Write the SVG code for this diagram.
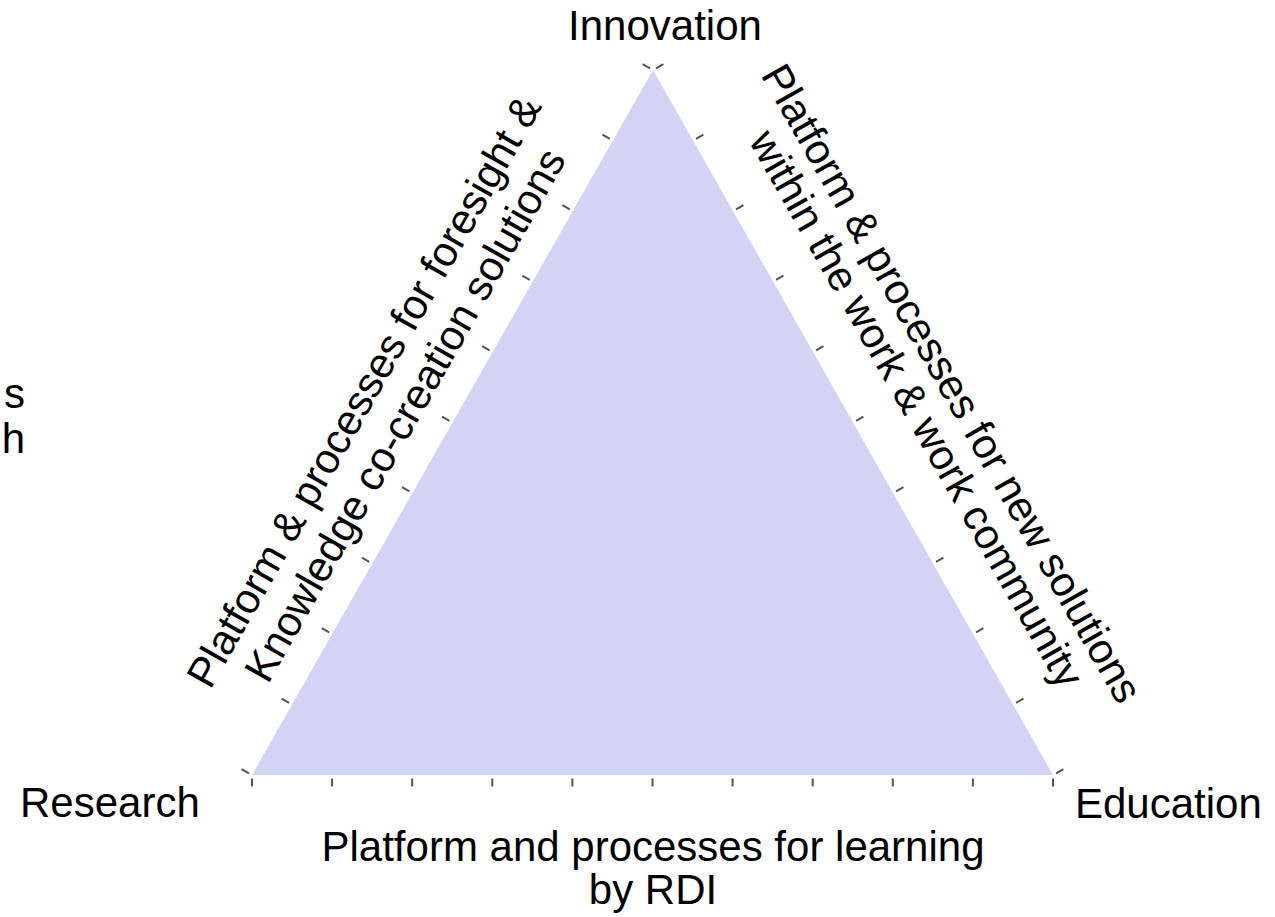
<svg xmlns="http://www.w3.org/2000/svg" width="1275" height="917" viewBox="0 0 1275 917">
  <style>
    .lbl { font-family: "Liberation Sans", Arial, sans-serif; font-size: 42px; fill: #000; }
    .tick { stroke: #555555; stroke-width: 2; fill: none; }
  </style>
  <rect width="1275" height="917" fill="#ffffff"/>
  <g id="triangle">
    <polygon points="653,70 252,775 1053,775" fill="#d3d3f3"/>
  </g>
  <g id="ticks" class="tick">
    <path d="M248.96,773.27L241.57,769.07M289.06,702.77L281.67,698.57M329.16,632.27L321.77,628.07M369.26,561.77L361.87,557.57M409.36,491.27L401.97,487.07M449.46,420.77L442.07,416.57M489.56,350.27L482.17,346.07M529.66,279.77L522.27,275.57M569.76,209.27L562.37,205.07M609.86,138.77L602.47,134.57M649.96,68.27L642.57,64.07"/>
    <path d="M656.04,68.27L663.44,64.08M696.04,138.77L703.44,134.58M736.04,209.27L743.44,205.08M776.04,279.77L783.44,275.58M816.04,350.27L823.44,346.08M856.04,420.77L863.44,416.58M896.04,491.27L903.44,487.08M936.04,561.77L943.44,557.58M976.04,632.27L983.44,628.08M1016.04,702.77L1023.44,698.58M1056.04,773.27L1063.44,769.08"/>
    <path d="M252,778.5V786.5M332.1,778.5V786.5M412.2,778.5V786.5M492.3,778.5V786.5M572.4,778.5V786.5M652.5,778.5V786.5M732.6,778.5V786.5M812.7,778.5V786.5M892.8,778.5V786.5M972.9,778.5V786.5M1053,778.5V786.5"/>
  </g>
  <g id="vertex-innovation">
    <text class="lbl" x="665" y="40" text-anchor="middle">Innovation</text>
  </g>
  <g id="vertex-research">
    <text class="lbl" x="20" y="817">Research</text>
  </g>
  <g id="vertex-education">
    <text class="lbl" x="1075" y="818">Education</text>
  </g>
  <g id="edge-left-label">
    <text class="lbl" text-anchor="middle" transform="translate(376.5,398.3) rotate(-60.37)">Platform &amp; processes for foresight &amp;</text>
    <text class="lbl" text-anchor="middle" transform="translate(417.5,422.1) rotate(-60.37)">Knowledge co-creation solutions</text>
  </g>
  <g id="edge-right-label">
    <text class="lbl" text-anchor="middle" transform="translate(939.4,390.4) rotate(60.43)">Platform &amp; processes for new solutions</text>
    <text class="lbl" text-anchor="middle" transform="translate(904.4,415.9) rotate(60.43)">within the work &amp; work community</text>
  </g>
  <g id="edge-bottom-label">
    <text class="lbl" x="653" y="861" text-anchor="middle">Platform and processes for learning</text>
    <text class="lbl" x="653" y="904" text-anchor="middle">by RDI</text>
  </g>
  <g id="cut-off-label">
    <text class="lbl" x="25" y="408" text-anchor="end">s</text>
    <text class="lbl" x="25" y="453" text-anchor="end">h</text>
  </g>
</svg>
